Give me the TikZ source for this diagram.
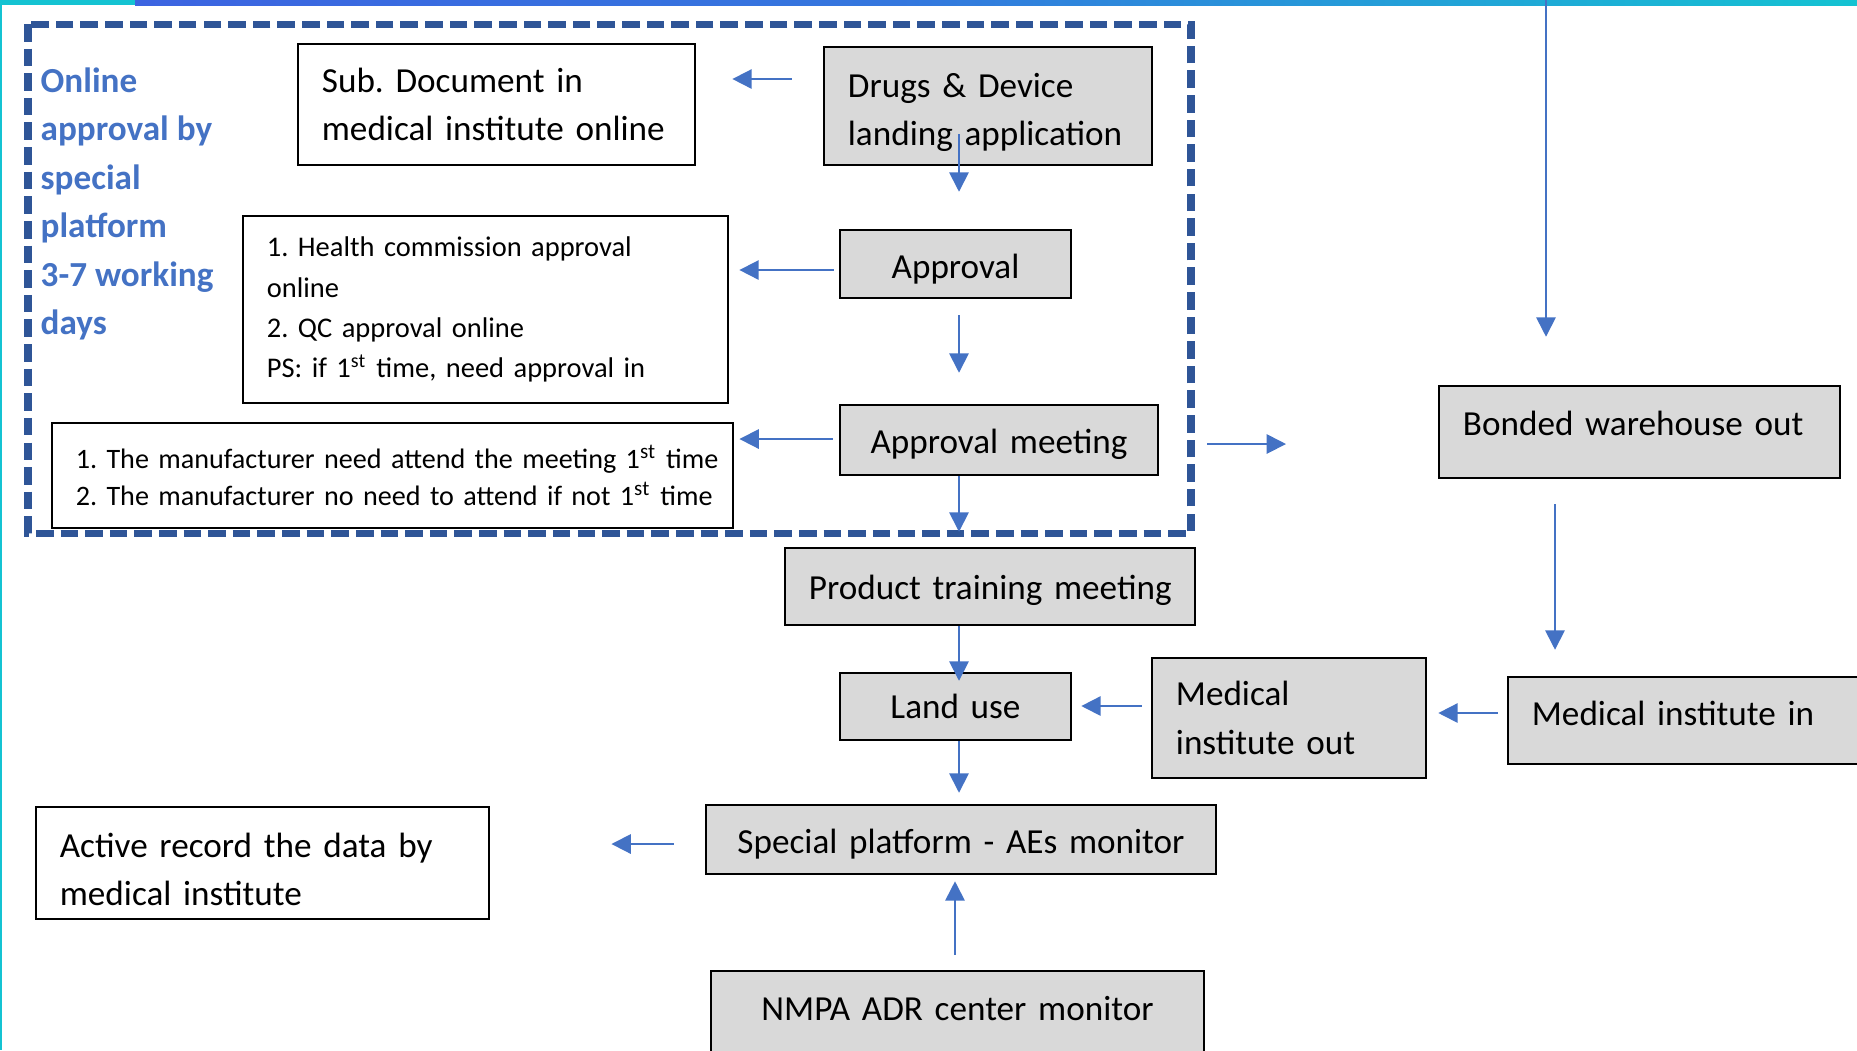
\documentclass[tikz,border=0pt]{standalone}
\usepackage{fontspec}
\setmainfont{Carlito}
\usetikzlibrary{arrows.meta}
\frenchspacing

\definecolor{arrowblue}{HTML}{4472C4}
\definecolor{frameblue}{HTML}{2F5597}
\definecolor{boxgray}{HTML}{D9D9D9}
\definecolor{barcyan}{RGB}{20,195,210}
\definecolor{barblue}{RGB}{60,100,225}

\tikzstyle{stage} = [rectangle,draw=black,line width=0.7pt,fill=boxgray,inner xsep=0.24cm,inner ysep=0pt,font=\fontsize{10}{13.8}\selectfont]
\tikzstyle{note} = [stage,fill=white]
\tikzstyle{small note} = [note,font=\fontsize{8.1}{11.4}\selectfont]
\tikzstyle{edge} = [draw,arrowblue,line width=0.5pt,-{Triangle[length=5.5pt,width=5.5pt]}]
\tikzstyle{frame} = [draw=frameblue,line width=2pt,dash pattern=on 5pt off 2pt]

\begin{document}
\begin{tikzpicture}[x=0.01cm,y=-0.01cm]
     \useasboundingbox (0,0) rectangle (1857,1050);
     % slide trim
     \fill[barcyan] (0,0) rectangle (2.5,1050);
     \fill[barcyan] (0,0) rectangle (135,5);
     \shade[left color=barblue,right color=barblue!80!barcyan] (135,0) rectangle (900,5);
     \shade[left color=barblue!80!barcyan,right color=barcyan] (900,0) rectangle (1857,5);

     % online approval frame
     \draw[frame] (28,24) rectangle (1191,533);
     \node[anchor=west,align=left,inner sep=0pt,text=arrowblue,
       font=\fontsize{10}{13.8}\selectfont\bfseries] (online) at (40,204)
       {Online\\approval by\\special\\platform\\3-7 working\\days};

     % the steps
     \node[note,text width=3.49cm,minimum height=1.21cm,align=left] (sub) at (496.5,104.5)
       {Sub. Document in\\\mbox{medical institute online}};
     \node[stage,text width=2.80cm,minimum height=1.18cm,align=left] (drugs) at (988,106)
       {\rule{0pt}{0.37cm}Drugs \& Device\\\mbox{landing application}};
     \node[small note,text width=4.37cm,minimum height=1.87cm,align=left] (health) at (485.5,309.5)
       {1. Health commission approval\\online\\2. QC approval online\\\mbox{PS: if 1\textsuperscript{st} time, need approval in}};
     \node[stage,text width=1.83cm,minimum height=0.68cm,align=center,text height=0.35cm] (approval) at (955.5,264) {Approval};
     \node[small note,font=\fontsize{8}{10.4}\selectfont,text width=6.33cm,minimum height=1.05cm,align=left] (manuf) at (392.5,475.5)
       {\mbox{1. The manufacturer need attend the meeting 1\textsuperscript{st} time}\\\mbox{2. The manufacturer no need to attend if not 1\textsuperscript{st} time}};
     \node[stage,text width=2.70cm,minimum height=0.70cm,align=center,text height=0.33cm] (ameet) at (999,440) {Approval meeting};
     \node[stage,text width=3.53cm,minimum height=0.92cm,align=left,text depth=0.18cm] (bonded) at (1639.5,432)
       {Bonded warehouse out};
     \node[stage,text width=3.62cm,minimum height=0.77cm,align=center,text height=0.31cm] (training) at (990,586.5)
       {\mbox{Product training meeting}};
     \node[stage,text width=1.83cm,minimum height=0.67cm,align=center] (landuse) at (955.5,706.5) {Land use};
     \node[stage,text width=2.26cm,minimum height=1.20cm,align=left] (medout) at (1289,718)
       {Medical\\institute out};
     \node[stage,text width=3.14cm,minimum height=0.87cm,align=left,text depth=0.14cm] (medin) at (1689,720.5)
       {Medical institute in};
     \node[stage,text width=4.62cm,minimum height=0.69cm,align=center,text height=0.33cm] (special) at (961,839.5)
       {Special platform - AEs monitor};
     \node[note,text width=4.05cm,minimum height=1.12cm,align=left] (record) at (262.5,863)
       {\rule{0pt}{0.37cm}Active record the data by\\medical institute};
     \node[stage,text width=4.45cm,minimum height=0.81cm,align=center,text depth=0.07cm] (nmpa) at (957.5,1011.5)
       {NMPA ADR center monitor};

     % connect the steps
     \coordinate (spine) at (959,0);
     \coordinate (fromtop) at (1546,0);
     \coordinate (tobonded) at (1286,444);
     \path[edge,shorten <=0.31cm,shorten >=0.36cm] (drugs.west |- 0,79) -- (sub.east |- 0,79);
     \path[edge,shorten <=-0.32cm,shorten >=0.37cm] (drugs.south -| spine) -- (approval.north -| spine);
     \path[edge,shorten <=0.05cm,shorten >=0.10cm] (approval.west |- 0,270) -- (health.east |- 0,270);
     \path[edge,shorten <=0.16cm,shorten >=0.31cm] (approval.south -| spine) -- (ameet.north -| spine);
     \path[edge,shorten <=0.06cm,shorten >=0.05cm] (ameet.west |- 0,439) -- (manuf.east |- 0,439);
     \path[edge,shorten <=0.48cm] (ameet.east |- tobonded) -- (tobonded);
     \path[edge,shorten >=0.15cm] (ameet.south -| spine) -- (training.north -| spine);
     \path[edge,shorten >=-0.09cm] (training.south -| spine) -- (landuse.north -| spine);
     \path[edge,shorten >=0.11cm] (landuse.south -| spine) -- (special.north -| spine);
     \path[edge,shorten <=0.09cm,shorten >=0.09cm] (medout.west |- 0,706) -- (landuse.east |- 0,706);
     \path[edge,shorten <=0.09cm,shorten >=0.11cm] (medin.west |- 0,713) -- (medout.east |- 0,713);
     \path[edge,shorten >=0.48cm] (fromtop) -- (bonded.north -| fromtop);
     \path[edge,shorten <=0.25cm,shorten >=0.26cm] (bonded.south -| 1555,0) -- (medin.north -| 1555,0);
     \path[edge,shorten <=0.31cm,shorten >=1.21cm] (special.west |- 0,844) -- (record.east |- 0,844);
     \path[edge,shorten <=0.15cm,shorten >=0.06cm] (nmpa.north -| 955,0) -- (special.south -| 955,0);
\end{tikzpicture}
\end{document}
